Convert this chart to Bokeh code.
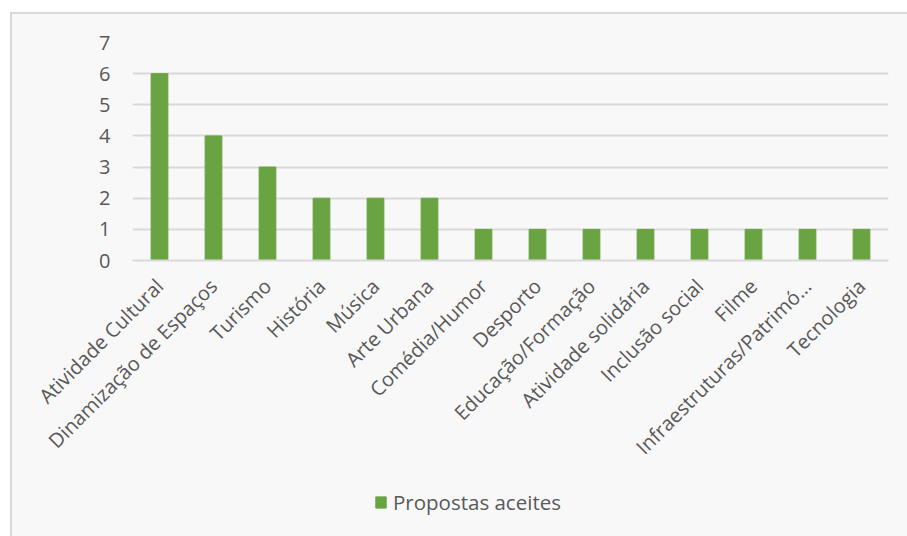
from bokeh.plotting import figure
from bokeh.models import ColumnDataSource, Legend, LegendItem, FixedTicker
from bokeh.layouts import column
from bokeh.embed import file_html
from bokeh.resources import INLINE
import math

categories = ["Atividade Cultural", "Dinamização de Espaços", "Turismo", "História", "Música",
              "Arte Urbana", "Comédia/Humor", "Desporto", "Educação/Formação", "Atividade solidária",
              "Inclusão social", "Filme", "Infraestruturas/Patrimó...", "Tecnologia"]
values = [6, 4, 3, 2, 2, 2, 1, 1, 1, 1, 1, 1, 1, 1]
series_name = "Propostas aceites"
y_ticks = [0, 1, 2, 3, 4, 5, 6, 7]

FONT = "Open Sans"
TXT = "#595959"
GRID = "#d9d9d9"
GREEN = "#6aa342"
BG = "#f8f8f8"

src = ColumnDataSource(dict(cat=categories, val=values))

H1 = 470
p = figure(x_range=categories, y_range=(0, 7), width=895, height=H1,
           output_backend="svg", toolbar_location=None,
           min_border_left=120, min_border_right=19, min_border_top=28, min_border_bottom=H1 - 28 - 218,
           background_fill_color=BG, border_fill_color=BG, outline_line_color=None)

r = p.vbar(x="cat", top="val", width=0.31, source=src, fill_color=GREEN, line_color=GREEN)

p.x_range.range_padding = 0

p.xgrid.grid_line_color = None
p.ygrid.grid_line_color = GRID
p.ygrid.grid_line_width = 2
p.yaxis.ticker = FixedTicker(ticks=y_ticks)

p.yaxis.axis_line_color = None
p.yaxis.major_tick_line_color = None
p.yaxis.minor_tick_line_color = None
p.yaxis.major_label_standoff = 16
p.yaxis.major_label_text_font = FONT
p.yaxis.major_label_text_font_size = "20px"
p.yaxis.major_label_text_color = TXT

p.xaxis.axis_line_color = GRID
p.xaxis.axis_line_width = 2
p.xaxis.major_tick_line_color = None
p.xaxis.minor_tick_line_color = None
p.xaxis.major_label_orientation = math.pi / 4
p.xaxis.major_label_standoff = 16
p.xaxis.major_label_text_font = FONT
p.xaxis.major_label_text_font_size = "20px"
p.xaxis.major_label_text_color = TXT

# legend strip (same data, placed out of view so only the legend swatch shows)
H2 = 522 - H1
p2 = figure(width=895, height=H2, x_range=categories, y_range=(10, 11),
            output_backend="svg", toolbar_location=None, min_border=0,
            background_fill_color=BG, border_fill_color=BG, outline_line_color=None)
p2.axis.visible = False
p2.grid.grid_line_color = None
dummy = p2.vbar(x="cat", top="val", width=0.31, source=src, fill_color=GREEN, line_color=GREEN)
legend = Legend(items=[LegendItem(label=series_name, renderers=[dummy])],
                location=(242, 20), orientation="horizontal",
                background_fill_alpha=0, border_line_color=None,
                padding=0, margin=0, glyph_width=13, glyph_height=14, label_standoff=6,
                label_text_font=FONT, label_text_font_size="20.5px", label_text_color=TXT)
p2.add_layout(legend, "center")

layout = column(p, p2, spacing=0, margin=(12, 0, 0, 10),
                styles={"border-top": "2px solid #d9d9d9", "border-left": "2px solid #d9d9d9",
                        "background-color": BG})

open("out.html", "w").write(file_html(layout, INLINE))
